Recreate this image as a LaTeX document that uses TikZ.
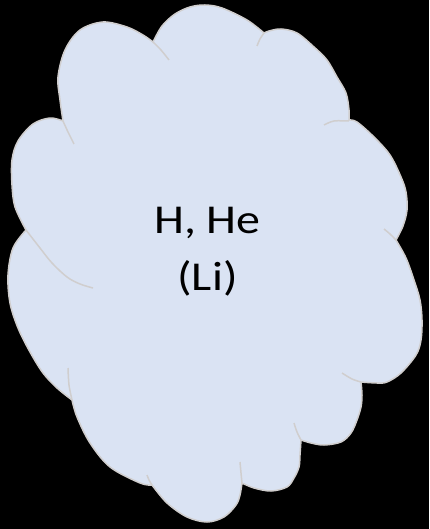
\documentclass[tikz,border=0pt]{standalone}
\usepackage{fontspec}
\setmainfont{Carlito}
\definecolor{cloudfill}{HTML}{DAE3F3}
\definecolor{cloudgrey}{HTML}{D0CECE}
\newcommand{\wide}[1]{\scalebox{1.17}[1]{#1}}
\begin{document}
\begin{tikzpicture}[x=1pt,y=-1pt,line join=round,
  cloudline/.style={draw=cloudgrey,line width=1.5pt},
  bump/.style={smooth,tension=.55}]
\fill[black] (0,0) rectangle (429,529);
\useasboundingbox (0,0) rectangle (429,529);
% outline, bump by bump (clockwise from the top)
\path[cloudline,fill=cloudfill]
  plot[bump] coordinates {(153,42) (162,26) (175,14) (190,7) (205,5) (222,8) (247,20) (264,33)}
  -- plot[bump] coordinates {(264,33) (269,31) (281,29) (297,33) (314,47) (327,60) (337,77) (346,93) (349,110) (349,120)}
  -- plot[bump] coordinates {(349,120) (357,122) (374,137) (390,155) (401,177) (406,192) (407,210) (403,226) (396,240)}
  -- plot[bump] coordinates {(396,240) (406,258) (414,280) (420,300) (422,320) (421,340) (416,355) (401,373) (387,382) (377,383) (361,382)}
  -- plot[bump] coordinates {(361,382) (362,395) (361,407) (357,420) (351,433) (341,442) (324,445) (311,443) (301,440)}
  -- plot[bump] coordinates {(301,440) (300,455) (299,467) (294,478) (287,487) (271,491) (254,488) (242,483)}
  -- plot[bump] coordinates {(242,483) (240,495) (236,505) (224,517) (207,522) (187,517) (167,503) (152,485)}
  -- plot[bump] coordinates {(152,485) (140,483) (110,467) (90,443) (77,417) (72,400)}
  -- plot[bump] coordinates {(72,400) (57,388) (43,373) (30,352) (18,328) (10,303) (8,275) (13,248) (26,230)}
  -- plot[bump] coordinates {(26,230) (15,207) (12,185) (12,160) (18,141) (33,124) (50,118) (63,121)}
  -- plot[bump] coordinates {(63,121) (60,100) (58,77) (65,50) (80,30) (103,22) (127,27) (143,35) (153,42)}
  -- cycle;
% inner arcs
\foreach \arcpts in {
  {(153,42) (161,50) (169,60)},
  {(264,33) (260,39) (257,46)},
  {(324,125) (334,121) (349,121)},
  {(384,229) (390,234) (396,240)},
  {(342,373) (352,379) (361,382)},
  {(294,423) (297,432) (301,440)},
  {(240,462) (241,473) (242,483)},
  {(147,475) (149,480) (152,485)},
  {(68,368) (69,385) (72,400)},
  {(26,230) (40,248) (52,263) (67,277) (80,284) (93,288)},
  {(63,121) (68,132) (74,144)}}
  \draw[cloudline] plot[bump] coordinates \arcpts;
\node[align=center,font=\fontsize{41}{57}\selectfont,inner sep=0pt] (elements) at (207.5,252) {\wide{H, He}\\\wide{(Li)}};
\end{tikzpicture}
\end{document}
